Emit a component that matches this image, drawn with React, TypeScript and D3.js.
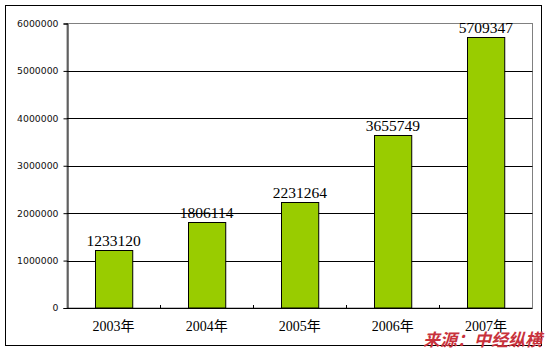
import React, { useEffect, useRef } from 'react';
import * as d3 from 'd3';

const years = ['2003年', '2004年', '2005年', '2006年', '2007年'];
const values = [1233120, 1806114, 2231264, 3655749, 5709347];
const yTicks = [0, 1000000, 2000000, 3000000, 4000000, 5000000, 6000000];

function App() {
  const ref = useRef<SVGSVGElement>(null);

  useEffect(() => {
    const svg = d3.select(ref.current);
    svg.selectAll('*').remove();

    const width = 549;
    const height = 352;
    const plot = { left: 67, top: 23.5, right: 532.5, bottom: 308 };

    // outer chart frame
    svg.append('rect')
      .attr('x', 5.5).attr('y', 5.5)
      .attr('width', 536).attr('height', 340)
      .attr('fill', '#fff').attr('stroke', '#000');

    const x = d3.scaleBand<string>()
      .domain(years)
      .range([plot.left, plot.right]);

    const y = d3.scaleLinear()
      .domain([0, 6000000])
      .range([plot.bottom, plot.top]);

    // plot area border (grey top/right)
    svg.append('rect')
      .attr('x', plot.left).attr('y', plot.top)
      .attr('width', plot.right - plot.left).attr('height', plot.bottom - plot.top)
      .attr('fill', 'none').attr('stroke', '#808080');

    // gridlines
    svg.append('g')
      .selectAll('line')
      .data(yTicks.slice(1, -1))
      .join('line')
      .attr('x1', plot.left).attr('x2', plot.right)
      .attr('y1', d => Math.round(y(d)) + 0.5).attr('y2', d => Math.round(y(d)) + 0.5)
      .attr('stroke', '#000');

    // y axis
    const yAxis = svg.append('g')
      .attr('transform', `translate(${plot.left + 0.5},0)`)
      .call(d3.axisLeft(y).tickValues(yTicks).tickSize(4).tickPadding(5).tickFormat(d3.format('d')));
    yAxis.select('.domain').attr('stroke', '#000');
    yAxis.selectAll('line').attr('stroke', '#000');
    yAxis.selectAll('text')
      .attr('fill', '#111')
      .style('font-family', 'DejaVu Sans, Verdana, sans-serif')
      .style('font-size', '9.3px');

    // bars
    const barW = x.bandwidth() * 0.4;
    svg.append('g')
      .selectAll('rect')
      .data(values)
      .join('rect')
      .attr('x', (d, i) => Math.round(x(years[i])! + (x.bandwidth() - barW) / 2) + 0.5)
      .attr('y', d => Math.round(y(d)) + 0.5)
      .attr('width', barW)
      .attr('height', d => plot.bottom - Math.round(y(d)) - 0.5)
      .attr('fill', '#99CC00')
      .attr('stroke', '#000');

    // value labels
    svg.append('g')
      .selectAll('text')
      .data(values)
      .join('text')
      .attr('x', (d, i) => x(years[i])! + x.bandwidth() / 2)
      .attr('y', d => y(d) - 4)
      .attr('text-anchor', 'middle')
      .style('font-family', 'Liberation Serif, serif')
      .style('font-size', '15.5px')
      .attr('fill', '#000')
      .text(d => String(d));

    // x axis line + ticks
    svg.append('line')
      .attr('x1', plot.left).attr('x2', plot.right)
      .attr('y1', plot.bottom + 0.5).attr('y2', plot.bottom + 0.5)
      .attr('stroke', '#000');
    const bounds = years.slice(1).map(c => x(c)!);
    svg.append('g')
      .selectAll('line')
      .data(bounds)
      .join('line')
      .attr('x1', d => Math.round(d) + 0.5).attr('x2', d => Math.round(d) + 0.5)
      .attr('y1', plot.bottom - 3).attr('y2', plot.bottom + 0.5)
      .attr('stroke', '#000');

    // category labels
    svg.append('g')
      .selectAll('text')
      .data(years)
      .join('text')
      .attr('x', d => x(d)! + x.bandwidth() / 2)
      .attr('y', 331)
      .attr('text-anchor', 'middle')
      .style('font-family', 'Liberation Serif, "Noto Sans CJK SC", serif')
      .style('font-size', '14px')
      .attr('fill', '#000')
      .text(d => d);

    // source note
    svg.append('text')
      .attr('x', 542)
      .attr('y', 346)
      .attr('text-anchor', 'end')
      .style('font-family', '"Noto Sans CJK SC", sans-serif')
      .style('font-size', '17px')
      .style('font-weight', 'bold')
      .style('font-style', 'italic')
      .attr('fill', '#C8323C')
      .text('来源：中经纵横');

    svg.attr('width', width).attr('height', height);
  }, []);

  return (
    <svg ref={ref} width={549} height={352}
      style={{ position: 'absolute', left: 0, top: 0, background: '#fff' }} />
  );
}

export default App;
